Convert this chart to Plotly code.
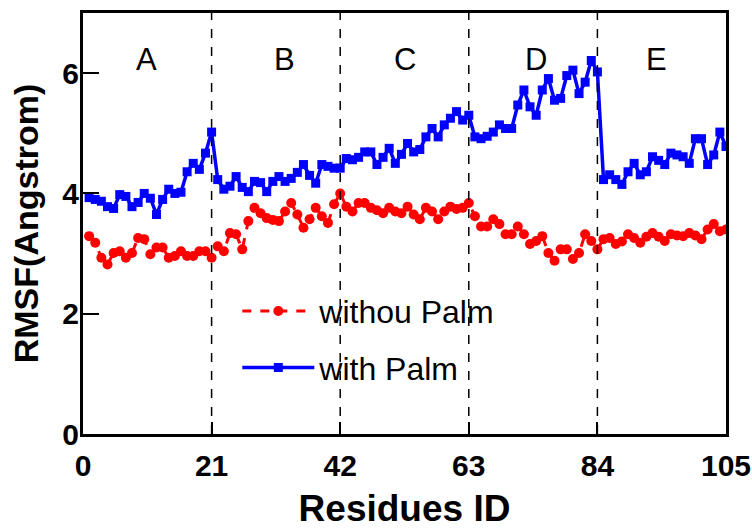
import plotly.graph_objects as go

residues = list(range(1, 106))

with_palm = [3.93, 3.90, 3.87, 3.78, 3.75, 3.98, 3.95, 3.78, 3.85, 4.00,
             3.92, 3.65, 3.90, 4.07, 4.00, 4.02, 4.36, 4.50, 4.40, 4.67,
             5.02, 4.23, 4.07, 4.12, 4.28, 4.10, 4.03, 4.20, 4.18, 4.03,
             4.20, 4.28, 4.20, 4.25, 4.35, 4.48, 4.30, 4.17, 4.48, 4.45,
             4.42, 4.42, 4.58, 4.56, 4.60, 4.69, 4.69, 4.48, 4.60, 4.75,
             4.50, 4.65, 4.83, 4.69, 4.73, 4.94, 5.08, 4.94, 5.14, 5.25,
             5.36, 5.22, 5.30, 4.94, 4.91, 4.95, 5.02, 5.14, 5.08, 5.08,
             5.47, 5.72, 5.44, 5.30, 5.72, 5.91, 5.55, 5.58, 5.96, 6.05,
             5.66, 5.85, 6.21, 6.02, 4.23, 4.31, 4.23, 4.15, 4.36, 4.50,
             4.31, 4.36, 4.61, 4.55, 4.48, 4.67, 4.64, 4.61, 4.50, 4.91,
             4.91, 4.48, 4.64, 5.02, 4.78]

without_palm = [3.29, 3.18, 2.93, 2.82, 3.01, 3.04, 2.93, 3.01, 3.26, 3.24,
                2.99, 3.10, 3.10, 2.93, 2.96, 3.04, 2.96, 2.96, 3.04, 3.04,
                2.93, 3.12, 3.04, 3.34, 3.32, 3.07, 3.54, 3.76, 3.67, 3.59,
                3.56, 3.54, 3.70, 3.84, 3.65, 3.43, 3.57, 3.76, 3.62, 3.51,
                3.82, 4.00, 3.78, 3.70, 3.84, 3.84, 3.76, 3.72, 3.67, 3.76,
                3.70, 3.67, 3.78, 3.65, 3.57, 3.76, 3.70, 3.57, 3.70, 3.78,
                3.74, 3.76, 3.84, 3.62, 3.45, 3.45, 3.57, 3.49, 3.32, 3.32,
                3.45, 3.32, 3.16, 3.21, 3.29, 3.01, 2.88, 3.07, 3.07, 2.91,
                3.01, 3.32, 3.21, 3.07, 3.24, 3.26, 3.16, 3.20, 3.32, 3.26,
                3.18, 3.28, 3.34, 3.28, 3.21, 3.32, 3.30, 3.29, 3.34, 3.30,
                3.24, 3.40, 3.49, 3.37, 3.40]

boundaries = [21, 42, 63, 84]
region_names = ["A", "B", "C", "D", "E"]
region_label_x = [10.3, 32.9, 52.6, 74.0, 93.6]
region_label_y = 6.22

x_ticks = [0, 21, 42, 63, 84, 105]
y_ticks = [0, 2, 4, 6]

FONT = "Arial, Liberation Sans, sans-serif"

fig = go.Figure()

fig.add_trace(go.Scatter(
    x=residues, y=without_palm, name="withou Palm", legendgroup="a",
    mode="lines+markers",
    line=dict(color="#ff0000", width=3, dash="dash"),
    marker=dict(symbol="circle", size=10, color="#ff0000"),
))
fig.add_trace(go.Scatter(
    x=residues, y=with_palm, name="with Palm", legendgroup="b",
    mode="lines+markers",
    line=dict(color="#0000ff", width=3.5),
    marker=dict(symbol="square", size=9, color="#0000ff"),
))

for b in boundaries:
    fig.add_shape(type="line", x0=b, x1=b, y0=0, y1=1, xref="x", yref="paper",
                  line=dict(color="black", width=1.5, dash="dash"), layer="above")

for name, lx in zip(region_names, region_label_x):
    fig.add_annotation(x=lx, y=region_label_y, text=name, showarrow=False,
                       font=dict(family=FONT, size=31, color="black"))

fig.update_layout(
    width=752, height=529,
    margin=dict(l=83, r=26, t=13, b=95, autoexpand=False),
    plot_bgcolor="white", paper_bgcolor="white",
    showlegend=True,
    legend=dict(x=0.24, y=0.357, xanchor="left", yanchor="top",
                bgcolor="rgba(0,0,0,0)", tracegroupgap=12, itemwidth=72,
                font=dict(family=FONT, size=32, color="black")),
    font=dict(family=FONT, color="black"),
)

fig.update_xaxes(
    range=[0, 105], tickvals=x_ticks, ticks="inside", ticklen=12, tickwidth=2,
    tickcolor="black", showline=True, linewidth=3, linecolor="black", mirror=True,
    showgrid=False, zeroline=False, automargin=False, ticklabelstandoff=3,
    tickfont=dict(family=FONT, size=30, color="black", weight="bold"),
    title=dict(text="<b>Residues ID</b>", standoff=29,
               font=dict(family=FONT, size=37, color="black")),
)
fig.update_yaxes(
    range=[0, 7], tickvals=y_ticks, ticks="inside", ticklen=16, tickwidth=2,
    tickcolor="black", showline=True, linewidth=3, linecolor="black", mirror=True,
    showgrid=False, zeroline=False, automargin=False, ticklabelstandoff=-5,
    tickfont=dict(family=FONT, size=30, color="black", weight="bold"),
    title=dict(text="<b>RMSF(Angstrom)</b>", standoff=14,
               font=dict(family=FONT, size=34, color="black")),
)

fig.write_html("out.html")
